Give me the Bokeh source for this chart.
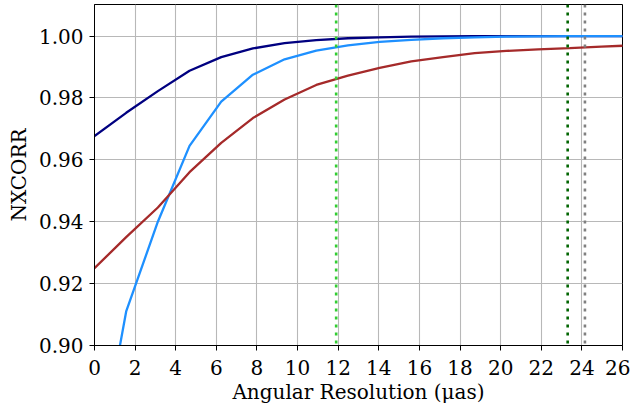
from bokeh.plotting import figure
from bokeh.models import Range1d, FixedTicker, PrintfTickFormatter, Span
from bokeh.embed import file_html
from bokeh.resources import INLINE

# ---- data ----
res_uas = [0.0, 1.56, 3.12, 4.68, 6.24, 7.80, 9.36, 10.92, 12.48, 14.04,
           15.60, 17.16, 18.72, 20.28, 21.84, 23.40, 24.96, 26.52]
nxcorr_navy = [0.9677, 0.9752, 0.9822, 0.9888, 0.9932, 0.9960, 0.9977, 0.9987,
               0.9993, 0.9996, 0.9998, 0.9999, 0.99995, 1.0, 1.0, 1.0, 1.0, 1.0]
nxcorr_blue = [0.855, 0.9110, 0.9400, 0.9645, 0.9788, 0.9875, 0.9925, 0.9953,
               0.9970, 0.9981, 0.9988, 0.9993, 0.9996, 0.9998, 0.9999, 1.0, 1.0, 1.0]
nxcorr_red = [0.9250, 0.9350, 0.9446, 0.9560, 0.9655, 0.9735, 0.9795, 0.9842,
              0.9872, 0.9897, 0.9918, 0.9932, 0.9945, 0.9952, 0.9957, 0.9961,
              0.9966, 0.9970]
vlines = [11.9, 23.3, 24.15]
vline_colors = ["#32CD32", "#006400", "#808080"]
x_ticks = list(range(0, 27, 2))
y_ticks = [0.90, 0.92, 0.94, 0.96, 0.98, 1.00]

FONT = "DejaVu Serif"

p = figure(output_backend="svg", toolbar_location=None,
           frame_width=528, frame_height=341,
           x_range=Range1d(0, 26), y_range=Range1d(0.90, 1.0102),
           min_border_left=94, min_border_right=8, min_border_top=4,
           min_border_bottom=50)
p.background_fill_color = "white"
p.border_fill_color = "white"
p.outline_line_color = "black"
p.outline_line_width = 1

p.line(res_uas, nxcorr_navy, line_color="#000080", line_width=2.3)
p.line(res_uas, nxcorr_blue, line_color="#1E90FF", line_width=2.3)
p.line(res_uas, nxcorr_red, line_color="#A52A2A", line_width=2.3)

for loc, col in zip(vlines, vline_colors):
    p.add_layout(Span(location=loc, dimension="height", line_color=col,
                      line_width=2.6, line_dash="3 5"))

p.xaxis.ticker = FixedTicker(ticks=x_ticks)
p.yaxis.ticker = FixedTicker(ticks=y_ticks)
p.yaxis.formatter = PrintfTickFormatter(format="%.2f")

p.xaxis.axis_label = "Angular Resolution (μas)"
p.yaxis.axis_label = "NXCORR"

for ax in (p.xaxis, p.yaxis):
    ax.axis_label_text_font = FONT
    ax.axis_label_text_font_size = "20px"
    ax.axis_label_text_font_style = "normal"
    ax.axis_label_text_color = "black"
    ax.major_label_text_font = FONT
    ax.major_label_text_font_size = "20px"
    ax.major_label_text_color = "black"
    ax.axis_line_color = "black"
    ax.major_tick_line_color = "black"
    ax.major_tick_out = 5
    ax.major_tick_in = 0
    ax.minor_tick_line_color = None

p.xaxis.major_label_standoff = 9
p.xaxis.axis_label_standoff = 2
p.yaxis.major_label_standoff = 6
p.yaxis.axis_label_standoff = 5

p.grid.grid_line_color = "#b8b8b8"
p.grid.grid_line_width = 1.1

open("out.html", "w").write(file_html(p, INLINE))
